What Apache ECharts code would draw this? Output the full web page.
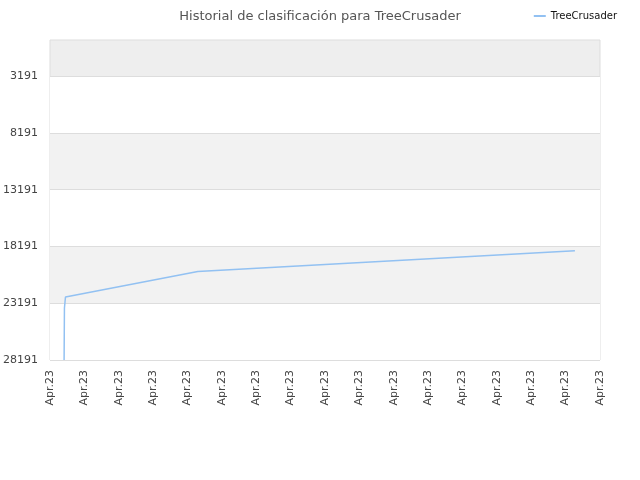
<!DOCTYPE html>
<html style="height: 100%">
<head>
<meta charset="utf-8">
<script src="https://cdn.jsdelivr.net/npm/echarts@6/dist/echarts.min.js"></script>
</head>
<body style="height: 100%; margin: 0; background: #fff">
<div id="container" style="width: 640px; height: 480px"></div>
<script type="text/javascript">
// x positions are in label-slot units (0 = first "Apr.23" label, 16 = last)
var tickLabels = ['Apr.23', 'Apr.23', 'Apr.23', 'Apr.23', 'Apr.23', 'Apr.23', 'Apr.23', 'Apr.23', 'Apr.23',
                  'Apr.23', 'Apr.23', 'Apr.23', 'Apr.23', 'Apr.23', 'Apr.23', 'Apr.23', 'Apr.23'];
var rankTicks = [3191, 8191, 13191, 18191, 23191, 28191];
var xPos = [0.41, 0.42, 0.45, 0.45, 4.3, 15.27];
var rank = [28191, 23611, 23611, 22641, 20394, 18561];

var dom = document.getElementById('container');
var myChart = echarts.init(dom);

var points = [];
for (var i = 0; i < xPos.length; i++) {
    points.push([xPos[i], rank[i]]);
}

var option = {
    animation: false,
    title: {
        text: 'Historial de clasificación para TreeCrusader',
        left: 'center',
        top: 5,
        textStyle: {
            color: '#555',
            fontSize: 13,
            fontWeight: 'normal',
            fontFamily: 'DejaVu Sans'
        }
    },
    legend: {
        right: 18,
        top: 6,
        itemWidth: 12,
        itemHeight: 2,
        itemGap: 6,
        icon: 'rect',
        textStyle: {
            color: '#111',
            fontSize: 10,
            fontFamily: 'DejaVu Sans'
        },
        data: ['TreeCrusader']
    },
    grid: {
        left: 50,
        right: 40,
        top: 40,
        bottom: 120,
        outerBoundsMode: 'none',
        containLabel: false,
        show: true,
        backgroundColor: '#eeeeee',
        borderColor: '#dddddd',
        borderWidth: 1
    },
    xAxis: {
        type: 'value',
        min: 0,
        max: 16,
        interval: 1,
        axisLine: { show: false },
        axisTick: { show: false },
        splitLine: { show: false },
        axisLabel: {
            rotate: 90,
            color: '#444',
            fontSize: 11,
            fontFamily: 'DejaVu Sans',
            margin: 10,
            showMinLabel: true,
            showMaxLabel: true,
            formatter: function (v) {
                return tickLabels[Math.round(v)];
            }
        }
    },
    yAxis: {
        type: 'value',
        inverse: true,
        min: 0,
        max: 28191,
        axisLine: { show: false },
        axisTick: { show: false, customValues: rankTicks },
        axisLabel: {
            customValues: rankTicks,
            color: '#444',
            fontSize: 11,
            fontFamily: 'DejaVu Sans',
            margin: 12,
            formatter: function (v) {
                return String(v);
            }
        },
        splitLine: {
            show: true,
            lineStyle: { color: '#dddddd', width: 1 }
        },
        splitArea: {
            show: true,
            areaStyle: { color: ['#ffffff', '#f2f2f2'] }
        }
    },
    series: [{
        name: 'TreeCrusader',
        type: 'line',
        data: points,
        symbol: 'none',
        lineStyle: { color: '#92c1f2', width: 1.5 },
        itemStyle: { color: '#92c1f2' }
    }]
};

myChart.setOption(option);
</script>
</body>
</html>
